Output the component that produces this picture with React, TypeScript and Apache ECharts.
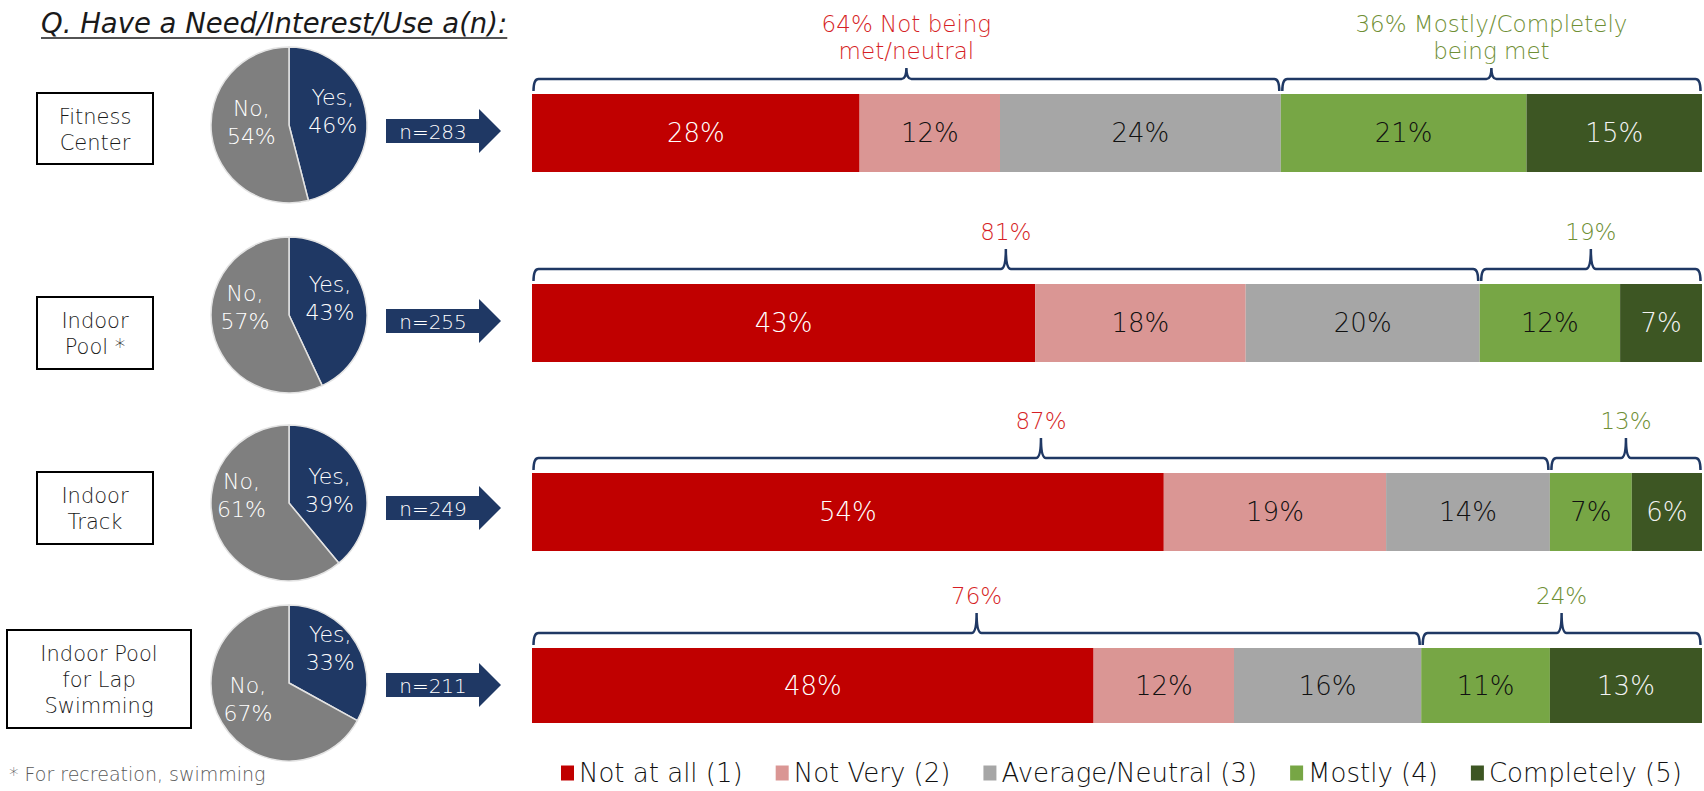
import React, { useEffect, useRef } from 'react';
import * as echarts from 'echarts';

// ---------- data ----------
const rowNames = ['Fitness\nCenter', 'Indoor\nPool *', 'Indoor\nTrack', 'Indoor Pool\nfor Lap\nSwimming'];
const yesShare = [46, 43, 39, 33];
const noShare = [54, 57, 61, 67];
const sampleSizes = [283, 255, 249, 211];
const levelNames = ['Not at all (1)', 'Not Very (2)', 'Average/Neutral (3)', 'Mostly (4)', 'Completely (5)'];
const notAtAll = [28, 43, 54, 48];
const notVery = [12, 18, 19, 12];
const averageNeutral = [24, 20, 14, 16];
const mostly = [21, 12, 7, 11];
const completely = [15, 7, 6, 13];
const notMetTotals = [64, 81, 87, 76];
const metTotals = [36, 19, 13, 24];
const notMetCaptions = ['64% Not being\nmet/neutral', '81%', '87%', '76%'];
const metCaptions = ['36% Mostly/Completely\nbeing met', '19%', '13%', '24%'];
const titleText = 'Q. Have a Need/Interest/Use a(n):';
const footnoteText = '* For recreation, swimming';

// ---------- layout / style ----------
const FONT = "'DejaVu Sans', sans-serif";
const WEIGHT = 300;
const BAR_LEFT = 532;
const BAR_WIDTH = 1170;
const gridTops = [94, 284, 473, 648];
const gridHeights = [78, 78, 78, 75];
const braceTipHeights = [11, 20, 20, 20];
const PIE_X = 289;
const PIE_R = 78;
const pieCentersY = [125, 315, 503, 683];
const arrowCentersY = [131, 321, 508, 685];
const boxes = [
  [37, 93, 116, 71],
  [37, 297, 116, 72],
  [37, 472, 116, 72],
  [7, 630, 184, 98],
];
const pieLabelShift = [
  [[2, -8], [4, -8]],
  [[0, -7], [-3, -17]],
  [[1, 2], [-8, -22]],
  [[5, -13], [-5, -5]],
];
const levelColors = ['#C00000', '#DA9694', '#A6A6A6', '#77A645', '#3D5623'];
const levelTextColors = ['#ffffff', '#111111', '#111111', '#111111', '#f2f2f2'];
const NAVY = '#1F3864';
const RED_CAPTION = '#D61F26';
const GREEN_CAPTION = '#6F8F35';

export default function App() {
  const ref = useRef<HTMLDivElement>(null);

  useEffect(() => {
    if (!ref.current) return;
    const chart = echarts.init(ref.current, null, { renderer: 'svg' });

    const levels = [notAtAll, notVery, averageNeutral, mostly, completely];

    const grids = gridTops.map((top, r) => ({ left: BAR_LEFT, width: BAR_WIDTH, top, height: gridHeights[r] }));
    const xAxes = gridTops.map((_, r) => ({ type: 'value', gridIndex: r, min: 0, max: 100, show: false }));
    const yAxes = gridTops.map((_, r) => ({ type: 'category', gridIndex: r, data: [rowNames[r]], show: false }));

    const barSeries: any[] = [];
    gridTops.forEach((_, r) => {
      levels.forEach((arr, k) => {
        barSeries.push({
          type: 'bar',
          name: levelNames[k],
          xAxisIndex: r,
          yAxisIndex: r,
          stack: 'row' + r,
          barWidth: '100%',
          silent: true,
          data: [arr[r]],
          itemStyle: { color: levelColors[k] },
          label: {
            show: true,
            position: 'inside',
            formatter: '{c}%',
            color: levelTextColors[k],
            fontSize: 26,
            fontWeight: WEIGHT,
            fontFamily: FONT,
          },
        });
      });
    });

    const braceSeries = gridTops.map((_, r) => ({
      type: 'custom',
      xAxisIndex: r,
      yAxisIndex: r,
      silent: true,
      z: 5,
      encode: { x: [0, 1], y: 3 },
      data: [
        [0, notMetTotals[r], 0, 0],
        [notMetTotals[r], notMetTotals[r] + metTotals[r], 1, 0],
      ],
      renderItem: (params: any, api: any) => {
        const start = api.value(0);
        const end = api.value(1);
        const kind = api.value(2);
        const p0 = api.coord([start, 0]);
        const p1 = api.coord([end, 0]);
        const band = api.size([0, 1])[1];
        const barTop = p0[1] - band / 2;
        const yLine = barTop - 15;
        const yEnd = barTop - 3;
        const tipY = yLine - braceTipHeights[r];
        const x0 = p0[0] + 1.5;
        const x1 = p1[0] - 1.5;
        const xm = (x0 + x1) / 2;
        const rr = 5;
        const d =
          `M${x0},${yEnd} Q${x0},${yLine} ${x0 + rr},${yLine} L${xm - rr},${yLine} ` +
          `Q${xm},${yLine} ${xm},${tipY} Q${xm},${yLine} ${xm + rr},${yLine} ` +
          `L${x1 - rr},${yLine} Q${x1},${yLine} ${x1},${yEnd}`;
        const caption = kind === 0 ? notMetCaptions[r] : metCaptions[r];
        return {
          type: 'group',
          children: [
            {
              type: 'path',
              shape: { pathData: d },
              style: { stroke: NAVY, lineWidth: 2.5, fill: null },
            },
            {
              type: 'text',
              x: xm,
              y: tipY - 4,
              style: {
                text: caption,
                align: 'center',
                verticalAlign: 'bottom',
                fill: kind === 0 ? RED_CAPTION : GREEN_CAPTION,
                fontSize: 23,
                fontWeight: WEIGHT,
                lineHeight: 27,
                fontFamily: FONT,
              },
            },
          ],
        };
      },
    }));

    const pieSeries = pieCentersY.map((cy, r) => ({
      type: 'pie',
      center: [PIE_X, cy],
      radius: PIE_R,
      startAngle: 90,
      clockwise: true,
      silent: true,
      emphasis: { disabled: true },
      itemStyle: { borderColor: '#E3E3E3', borderWidth: 1.5 },
      data: [
        { name: 'Yes', value: yesShare[r], itemStyle: { color: NAVY } },
        { name: 'No', value: noShare[r], itemStyle: { color: '#7F7F7F' } },
      ],
      label: {
        show: true,
        position: 'inside',
        formatter: '{b},\n{c}%',
        color: '#ffffff',
        fontSize: 22,
        fontWeight: WEIGHT,
        lineHeight: 28,
        fontFamily: FONT,
      },
      labelLine: { show: false },
      labelLayout: (p: any) => ({
        dx: pieLabelShift[r][p.dataIndex][0],
        dy: pieLabelShift[r][p.dataIndex][1],
      }),
    }));

    const TITLE_FONT = `italic ${WEIGHT} 27.5px ${FONT}`;
    let titleWidth = 466;
    try {
      const ctx = document.createElement('canvas').getContext('2d');
      if (ctx) {
        ctx.font = TITLE_FONT;
        titleWidth = ctx.measureText(titleText).width;
      }
    } catch (e) {}

    const graphics: any[] = [
      {
        type: 'text',
        x: 41,
        y: 23,
        style: { text: titleText, font: TITLE_FONT, fill: '#1a1a1a', align: 'left', verticalAlign: 'middle' },
      },
      {
        type: 'line',
        shape: { x1: 41, y1: 38, x2: 41 + titleWidth, y2: 38 },
        style: { stroke: '#1a1a1a', lineWidth: 1.5 },
      },
      {
        type: 'text',
        x: 9,
        y: 774,
        style: { text: footnoteText, font: `${WEIGHT} 19px ${FONT}`, fill: '#595959', align: 'left', verticalAlign: 'middle' },
      },
    ];

    boxes.forEach((b, r) => {
      graphics.push({
        type: 'rect',
        shape: { x: b[0], y: b[1], width: b[2], height: b[3] },
        style: { fill: '#ffffff', stroke: '#000000', lineWidth: 2 },
      });
      graphics.push({
        type: 'text',
        x: b[0] + b[2] / 2,
        y: b[1] + b[3] / 2 + 1,
        style: {
          text: rowNames[r],
          fontSize: 21,
          fontWeight: WEIGHT,
          lineHeight: 26,
          fontFamily: FONT,
          fill: '#1a1a1a',
          align: 'center',
          verticalAlign: 'middle',
        },
      });
    });

    arrowCentersY.forEach((cy, r) => {
      const bx0 = 386;
      const bx1 = 479;
      const tip = 501;
      graphics.push({
        type: 'polygon',
        shape: {
          points: [
            [bx0, cy - 12],
            [bx1, cy - 12],
            [bx1, cy - 22],
            [tip, cy],
            [bx1, cy + 22],
            [bx1, cy + 12],
            [bx0, cy + 12],
          ],
        },
        style: { fill: NAVY },
      });
      graphics.push({
        type: 'text',
        x: 433,
        y: cy + 1,
        style: {
          text: 'n=' + sampleSizes[r],
          fontSize: 20,
          fontWeight: WEIGHT,
          fontFamily: FONT,
          fill: '#ffffff',
          align: 'center',
          verticalAlign: 'middle',
        },
      });
    });

    const option: any = {
      animation: false,
      backgroundColor: '#ffffff',
      textStyle: { fontFamily: FONT },
      grid: grids,
      xAxis: xAxes,
      yAxis: yAxes,
      legend: {
        data: levelNames,
        left: 556,
        top: 755,
        itemWidth: 13,
        itemHeight: 15,
        itemGap: 33,
        icon: 'rect',
        selectedMode: false,
        textStyle: { fontSize: 26, fontWeight: WEIGHT, color: '#111111', fontFamily: FONT },
      },
      graphic: graphics,
      series: [...barSeries, ...braceSeries, ...pieSeries],
    };

    chart.setOption(option);
    return () => chart.dispose();
  }, []);

  return (
    <div
      ref={ref}
      style={{ position: 'absolute', left: 0, top: 0, width: 1704, height: 791, background: '#ffffff' }}
    />
  );
}
